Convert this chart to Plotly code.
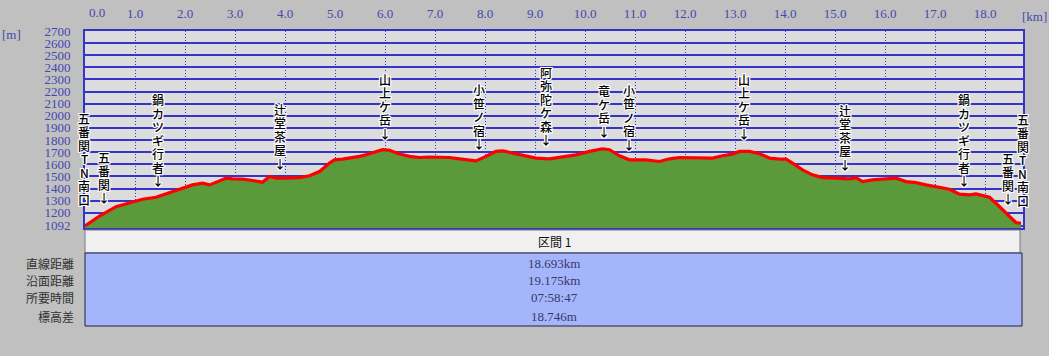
import plotly.graph_objects as go

# ---------------- data ----------------
dist_km = [0.00, 0.29, 0.62, 0.95, 1.15, 1.42, 1.62, 1.89, 2.15, 2.35, 2.49, 2.69, 2.82, 2.95,
           3.15, 3.35, 3.55, 3.69, 3.83, 4.03, 4.29, 4.49, 4.69, 4.89, 4.99, 5.15, 5.29, 5.49,
           5.62, 5.75, 5.95, 6.09, 6.29, 6.49, 6.69, 6.89, 7.09, 7.29, 7.49, 7.69, 7.82, 8.02,
           8.22, 8.35, 8.55, 8.75, 9.02, 9.29, 9.55, 9.82, 10.09, 10.35, 10.49, 10.69, 10.89,
           11.22, 11.49, 11.69, 11.89, 12.22, 12.55, 12.75, 12.95, 13.09, 13.29, 13.49, 13.69,
           13.89, 14.02, 14.15, 14.35, 14.55, 14.75, 15.02, 15.29, 15.42, 15.55, 15.75, 16.02,
           16.22, 16.42, 16.62, 16.82, 17.09, 17.29, 17.49, 17.69, 17.82, 17.95, 18.09, 18.22,
           18.35, 18.49, 18.62, 18.72]
elev_m = [1092, 1173, 1250, 1292, 1311, 1328, 1355, 1397, 1430, 1444, 1430, 1463, 1485, 1480,
          1477, 1466, 1452, 1499, 1485, 1485, 1490, 1505, 1540, 1610, 1637, 1643, 1651, 1665,
          1678, 1697, 1720, 1716, 1684, 1665, 1656, 1660, 1660, 1656, 1645, 1631, 1628, 1665,
          1706, 1711, 1692, 1670, 1651, 1645, 1659, 1678, 1706, 1728, 1720, 1670, 1637,
          1637, 1623, 1645, 1656, 1656, 1651, 1670, 1684, 1706, 1706, 1687, 1651,
          1643, 1643, 1610, 1554, 1513, 1490, 1485, 1480, 1490, 1457, 1471, 1480,
          1485, 1457, 1449, 1430, 1411, 1394, 1353, 1347, 1355, 1341, 1328, 1278,
          1223, 1167, 1118, 1113]

label_names = ["五番関TN南口", "五番関", "鍋カツギ行者", "辻堂茶屋", "山上ケ岳", "小笹ノ宿",
               "阿弥陀ケ森", "竜ケ岳", "小笹ノ宿", "山上ケ岳", "辻堂茶屋", "鍋カツギ行者",
               "五番関", "五番関TN南口"]
label_km = [0.0, 0.37, 1.45, 3.89, 5.99, 7.87, 9.21, 10.37, 10.87, 13.17, 15.19, 17.57, 18.45, 18.75]
label_tip_m = [1231, 1247, 1386, 1530, 1778, 1693, 1726, 1795, 1685, 1778, 1520, 1386, 1239, 1223]
label_arrow = [False, True, True, True, True, True, True, True, True, True, True, True, True, False]

x_ticks = list(range(0, 19))
x_tick_text = [f"{v}.0" for v in x_ticks]
y_ticks = [1092] + list(range(1200, 2800, 100))
y_tick_text = [str(v) for v in y_ticks]

section_title = "区間 1"
summary_rows = ["直線距離", "沿面距離", "所要時間", "標高差"]
summary_vals = ["18.693km", "19.175km", "07:58:47", "18.746m"]

# ---------------- layout constants ----------------
W, H = 1049, 356
ML, MR, MT, MB = 85, 26, 31, 128
PW, PH = W - ML - MR, H - MT - MB
def px2paper(px):
    return (px - ML) / PW
def py2paper(py):
    return (H - MB - py) / PH

BLUE = "#3434c8"
TXT_BLUE = "#4646b0"
NUM_FONT = "Liberation Serif"
JP_FONT = "Noto Sans CJK JP"
HALO = ("1px 0 0 #fff, -1px 0 0 #fff, 0 1px 0 #fff, 0 -1px 0 #fff, "
        "1px 1px 0 #fff, -1px -1px 0 #fff, 1px -1px 0 #fff, -1px 1px 0 #fff")

fig = go.Figure()
fig.add_trace(go.Scatter(
    x=dist_km, y=elev_m, mode="lines",
    line=dict(color="#ff0000", width=3.2),
    fill="tozeroy", fillcolor="#5b9a3a",
    hoverinfo="skip", showlegend=False,
))

annotations = []
LINE_H = 13.5
for idx, (name, km, tip, arrow) in enumerate(zip(label_names, label_km, label_tip_m, label_arrow)):
    chars = list(name) + (["↓"] if arrow else [])
    n = len(chars)
    xs = -1 if idx == 0 else 0
    for i, ch in enumerate(chars):
        annotations.append(dict(
            x=km, y=tip, xref="x", yref="y", text=ch, showarrow=False,
            xanchor="center", yanchor="bottom", yshift=(n - 1 - i) * LINE_H, xshift=xs,
            font=dict(family=JP_FONT, size=12, color="#000000", weight=500, shadow=HALO),
            borderpad=0,
        ))

# x label "0.0" (shifted inside like the reference)
annotations.append(dict(x=0, y=1, xref="x", yref="paper", text="0.0", showarrow=False,
                        xanchor="center", yanchor="bottom", xshift=12, yshift=9,
                        font=dict(family=NUM_FONT, size=13, color=TXT_BLUE)))
annotations.append(dict(x=px2paper(11), y=py2paper(34), xref="paper", yref="paper", text="[m]",
                        showarrow=False, xanchor="center", yanchor="middle",
                        font=dict(family=NUM_FONT, size=13, color=TXT_BLUE)))
annotations.append(dict(x=px2paper(1034), y=py2paper(16), xref="paper", yref="paper", text="[km]",
                        showarrow=False, xanchor="center", yanchor="middle",
                        font=dict(family=NUM_FONT, size=13, color=TXT_BLUE)))

# summary table
shapes = [
    dict(type="rect", xref="paper", yref="paper", x0=px2paper(85), x1=px2paper(1020),
         y0=py2paper(253), y1=py2paper(230), fillcolor="#f0f0f0",
         line=dict(color="#7a7a7a", width=1), layer="above"),
    dict(type="rect", xref="paper", yref="paper", x0=px2paper(85), x1=px2paper(1022),
         y0=py2paper(326), y1=py2paper(253), fillcolor="#a5b5fc",
         line=dict(color="#202040", width=1), layer="above"),
]
annotations.append(dict(x=0.5, y=py2paper(241), xref="paper", yref="paper", text=section_title,
                        showarrow=False, xanchor="center", yanchor="middle",
                        font=dict(family=JP_FONT, size=12, color="#101010")))
row_y = [263, 280, 297.5, 316]
for lab, val, py in zip(summary_rows, summary_vals, row_y):
    annotations.append(dict(x=px2paper(76), y=py2paper(py), xref="paper", yref="paper", text=lab,
                            showarrow=False, xanchor="right", yanchor="middle",
                            font=dict(family=JP_FONT, size=12, color="#303030")))
    annotations.append(dict(x=0.5, y=py2paper(py), xref="paper", yref="paper", text=val,
                            showarrow=False, xanchor="center", yanchor="middle",
                            font=dict(family=NUM_FONT, size=13, color="#383868")))

fig.update_layout(
    width=W, height=H,
    margin=dict(l=ML, r=MR, t=MT, b=MB, pad=0, autoexpand=False),
    paper_bgcolor="#c0c0c0", plot_bgcolor="#dcdcdc",
    showlegend=False,
    annotations=annotations, shapes=shapes,
    xaxis=dict(range=[0, 18.76], side="top", tickvals=x_ticks[1:], ticktext=x_tick_text[1:],
               showgrid=True, gridcolor=BLUE, gridwidth=1, griddash="1px,2px",
               showline=True, linecolor=BLUE, linewidth=2, mirror=True, automargin=False,
               ticks="", ticklabelstandoff=6, zeroline=False,
               tickfont=dict(family=NUM_FONT, size=13, color=TXT_BLUE), fixedrange=True),
    yaxis=dict(range=[1074, 2700], tickvals=y_ticks, ticktext=y_tick_text,
               showgrid=True, gridcolor=BLUE, gridwidth=1.5, automargin=False,
               showline=True, linecolor=BLUE, linewidth=2, mirror=True,
               ticks="", ticklabelstandoff=10, zeroline=False,
               tickfont=dict(family=NUM_FONT, size=13, color=TXT_BLUE), fixedrange=True),
)

fig.write_html("out.html", config={"displayModeBar": False})
